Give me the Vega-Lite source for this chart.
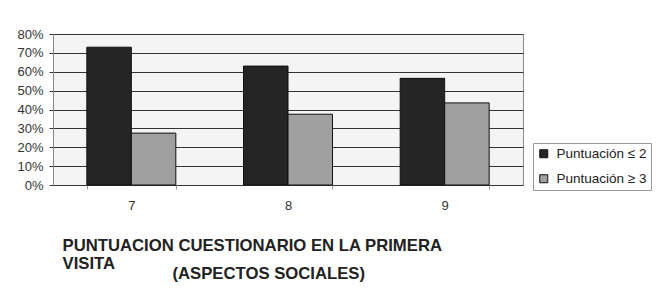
{
  "$schema": "https://vega.github.io/schema/vega-lite/v6.json",
  "width": 470,
  "height": 151,
  "autosize": "none",
  "padding": {"left": 53, "top": 34, "right": 137, "bottom": 121},
  "background": "white",
  "data": {"values": [
    {"visita": "7", "serie": "Puntuación ≤ 2", "pct": 0.73},
    {"visita": "7", "serie": "Puntuación ≥ 3", "pct": 0.275},
    {"visita": "8", "serie": "Puntuación ≤ 2", "pct": 0.63},
    {"visita": "8", "serie": "Puntuación ≥ 3", "pct": 0.375},
    {"visita": "9", "serie": "Puntuación ≤ 2", "pct": 0.565},
    {"visita": "9", "serie": "Puntuación ≥ 3", "pct": 0.435}
  ]},
  "mark": {"type": "bar", "stroke": "#111111", "strokeWidth": 1},
  "encoding": {
    "x": {
      "field": "visita", "type": "nominal",
      "scale": {"paddingInner": 0.432, "paddingOuter": 0.216},
      "axis": {
        "labelAngle": 0, "labelFontSize": 13, "labelColor": "#333333", "labelPadding": 10,
        "ticks": true, "tickBand": "extent", "tickSize": 4, "tickColor": "#999999",
        "domain": false,
        "title": ["PUNTUACION CUESTIONARIO EN LA PRIMERA", "VISITA"],
        "titleAnchor": "start", "titleX": 9, "titleY": 52, "titleAlign": "left", "titleBaseline": "top",
        "titleFontSize": 16.7, "titleFontWeight": "bold", "titleColor": "#222222", "titleLineHeight": 18
      }
    },
    "xOffset": {
      "field": "serie", "type": "nominal",
      "sort": ["Puntuación ≤ 2", "Puntuación ≥ 3"],
      "scale": {"paddingInner": 0, "paddingOuter": 0}
    },
    "y": {
      "field": "pct", "type": "quantitative",
      "scale": {"domain": [0, 0.8], "nice": false},
      "axis": {
        "values": [0, 0.1, 0.2, 0.3, 0.4, 0.5, 0.6, 0.7, 0.8],
        "format": ".0%",
        "labelFontSize": 13, "labelColor": "#333333", "labelPadding": 6,
        "tickSize": 4, "tickColor": "#333333",
        "domainColor": "#888888",
        "grid": true, "gridColor": "#333333", "gridWidth": 1,
        "title": "(ASPECTOS SOCIALES)",
        "titleAngle": 0, "titleX": 119, "titleY": 239, "titleAlign": "left", "titleBaseline": "middle",
        "titleFontSize": 16.7, "titleFontWeight": "bold", "titleColor": "#222222"
      }
    },
    "fill": {
      "field": "serie", "type": "nominal",
      "scale": {"domain": ["Puntuación ≤ 2", "Puntuación ≥ 3"], "range": ["#252525", "#a0a0a0"]},
      "legend": {
        "title": null, "orient": "none", "legendX": 480, "legendY": 109,
        "strokeColor": "#999999", "fillColor": "#ffffff", "padding": 4,
        "symbolType": "square", "symbolSize": 64, "symbolStrokeColor": "#111111", "symbolStrokeWidth": 1,
        "labelFontSize": 13.5, "labelColor": "#222222", "labelOffset": 6, "rowPadding": 10
      }
    }
  },
  "config": {
    "font": "Liberation Sans",
    "view": {"stroke": "#8a8a8a", "fill": "#f4f4f4"}
  }
}
